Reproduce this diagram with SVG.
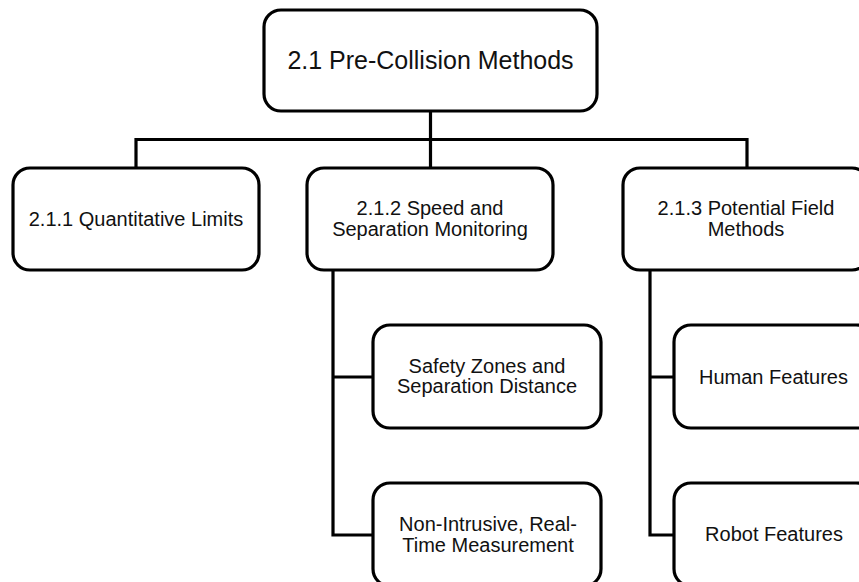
<svg xmlns="http://www.w3.org/2000/svg" width="859" height="582" viewBox="0 0 859 582">
<style>
.box{fill:#fff;stroke:#000;stroke-width:3.2}
.ln{fill:none;stroke:#000;stroke-width:3.2;stroke-linejoin:miter;stroke-linecap:square}
text{font-family:"Liberation Sans",Arial,sans-serif;font-size:20px;fill:#111;text-anchor:middle}
</style>
<rect width="859" height="582" fill="#fff"/>
<g id="connectors">
<path class="ln" d="M430.5 111V139.5M136 168V139.5H747V168M430.5 139.5V168"/>
<path class="ln" d="M333 270V535H373M333 377H373"/>
<path class="ln" d="M650 270V535H674M650 377H674"/>
</g>
<g id="root"><rect class="box" x="264" y="10" width="333" height="101" rx="17"/>
<text x="430.5" y="69" style="font-size:25px">2.1 Pre-Collision Methods</text></g>
<g id="n211"><rect class="box" x="13" y="168" width="246" height="102" rx="17"/>
<text x="136" y="225.5">2.1.1 Quantitative Limits</text></g>
<g id="n212"><rect class="box" x="307" y="168" width="246" height="102" rx="17"/>
<text x="430" y="215">2.1.2 Speed and</text><text x="430" y="236">Separation Monitoring</text></g>
<g id="n213"><rect class="box" x="623" y="168" width="246" height="102" rx="17"/>
<text x="746" y="215">2.1.3 Potential Field</text><text x="746" y="236">Methods</text></g>
<g id="safety"><rect class="box" x="373" y="325" width="228" height="103" rx="17"/>
<text x="487" y="372.5">Safety Zones and</text><text x="487" y="393">Separation Distance</text></g>
<g id="nonintrusive"><rect class="box" x="373" y="483" width="228" height="103" rx="17"/>
<text x="488" y="531">Non-Intrusive, Real-</text><text x="488" y="551.5">Time Measurement</text></g>
<g id="human"><rect class="box" x="674" y="325" width="199" height="103" rx="17"/>
<text x="773.5" y="383.5">Human Features</text></g>
<g id="robot"><rect class="box" x="674" y="483" width="199" height="103" rx="17"/>
<text x="774" y="541">Robot Features</text></g>
</svg>
